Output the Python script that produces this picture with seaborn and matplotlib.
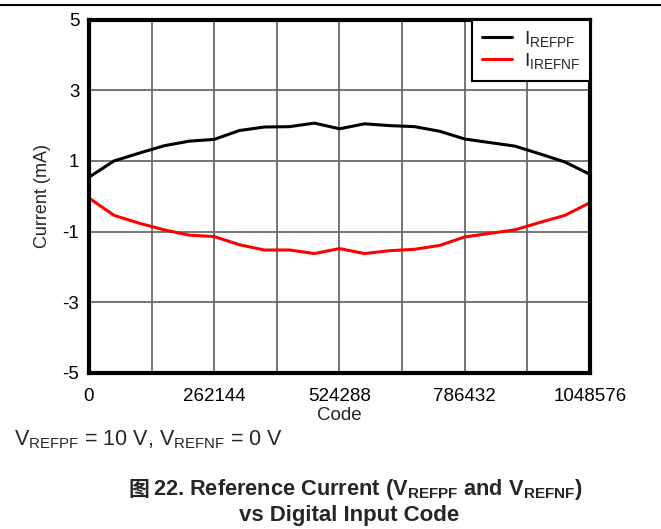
import numpy as np
import pandas as pd
import matplotlib
matplotlib.use("Agg")
import matplotlib.pyplot as plt
import seaborn as sns
from matplotlib.lines import Line2D

# ---- data ----
codes = [i * 52428.8 for i in range(21)]
i_refpf = [0.54, 1.00, 1.22, 1.43, 1.56, 1.61, 1.86, 1.96, 1.97, 2.07, 1.91,
           2.05, 2.00, 1.97, 1.84, 1.62, 1.52, 1.42, 1.20, 0.97, 0.62]
i_refnf = [-0.05, -0.54, -0.76, -0.95, -1.10, -1.14, -1.37, -1.52, -1.52, -1.62, -1.48,
           -1.62, -1.54, -1.50, -1.39, -1.15, -1.05, -0.95, -0.74, -0.54, -0.18]
x_ticks = [0, 262144, 524288, 786432, 1048576]
y_ticks = [5, 3, 1, -1, -3, -5]
series_names = ["I$_{\\mathrm{REFPF}}$", "I$_{\\mathrm{IREFNF}}$"]

df = pd.DataFrame({
    "Code": codes * 2,
    "Current": i_refpf + i_refnf,
    "Series": [series_names[0]] * len(codes) + [series_names[1]] * len(codes),
})

sns.set_theme(style="white")
plt.rcParams["font.family"] = ["Liberation Sans", "DejaVu Sans"]
plt.rcParams["mathtext.fontset"] = "custom"
plt.rcParams["mathtext.rm"] = "Liberation Sans"
plt.rcParams["mathtext.it"] = "Liberation Sans:italic"
plt.rcParams["mathtext.bf"] = "Liberation Sans:bold"

fig = plt.figure(figsize=(6.61, 5.29), dpi=100)
ax = fig.add_axes([0.1346, 0.2949, 0.758, 0.6681])

sns.lineplot(data=df, x="Code", y="Current", hue="Series",
             palette=["black", "#ff0000"], linewidth=2.2, ax=ax, legend=False)

ax.set_xlim(0, 1048576)
ax.set_ylim(-5, 5)
ax.set_xticks(x_ticks)
ax.set_xticks([131072 * k for k in range(9)], minor=True)
ax.set_yticks(y_ticks)
ax.set_yticklabels([str(v) for v in y_ticks])
ax.set_xticklabels([str(v) for v in x_ticks])
ax.grid(True, which="both", color="#6a6a6a", linewidth=1.3)
ax.tick_params(axis="both", which="both", length=0, labelsize=13.5, colors="black")
ax.tick_params(axis="x", pad=11)
ax.tick_params(axis="y", pad=7)
for s in ax.spines.values():
    s.set_color("black")
    s.set_linewidth(3)
ax.set_xlabel("Code", fontsize=13.5, labelpad=1)
ax.set_ylabel("Current (mA)", fontsize=13, labelpad=8)

handles = [Line2D([], [], color="black", lw=2.2), Line2D([], [], color="#ff0000", lw=2.2)]
leg = ax.legend(handles, series_names, loc="upper right", borderaxespad=0,
                fontsize=14, frameon=True, fancybox=False, framealpha=1,
                edgecolor="black", handlelength=1.55, handletextpad=0.6,
                labelspacing=0.1, borderpad=0.5)
leg.get_frame().set_linewidth(1.5)

# page decoration line at top
fig.add_artist(Line2D([0, 1], [1 - 5 / 529, 1 - 5 / 529], color="black", lw=1.5,
                      transform=fig.transFigure))

fig.text(14 / 661, 1 - 440 / 529,
         "V$_{\\mathrm{REFPF}}$ = 10 V, V$_{\\mathrm{REFNF}}$ = 0 V",
         fontsize=15.5, ha="left", va="center")

fig.text(139 / 661, 1 - 490 / 529, "图", family=["Noto Sans CJK SC"],
         fontweight="bold", fontsize=15, ha="center", va="center")
fig.text(153 / 661, 1 - 490 / 529,
         "22. Reference Current (V$_{\\mathbf{REFPF}}$ and V$_{\\mathbf{REFNF}}$)",
         fontsize=15.7, fontweight="bold", ha="left", va="center")
fig.text(349 / 661, 1 - 515 / 529, "vs Digital Input Code",
         fontsize=16, fontweight="bold", ha="center", va="center")

fig.savefig("out.png", dpi=100)
